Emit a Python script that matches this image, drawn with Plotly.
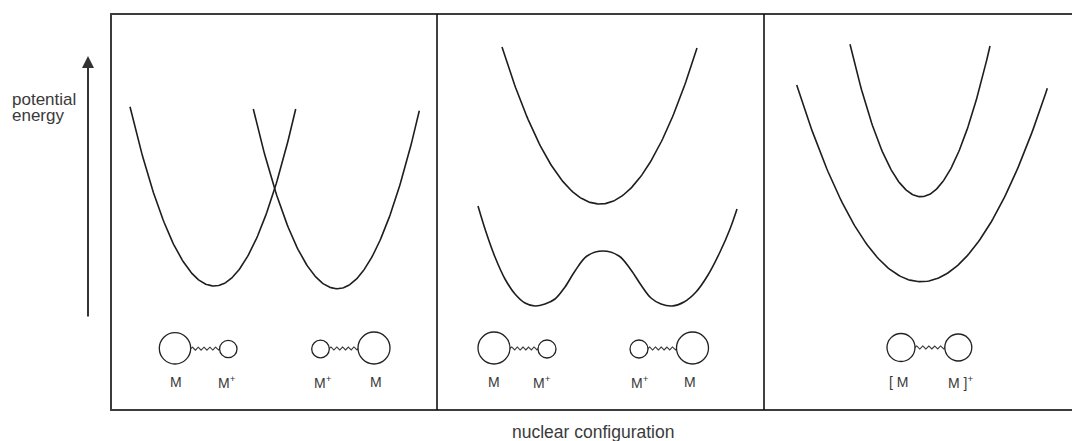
import numpy as np
import plotly.graph_objects as go

# ---------------- data (configuration coordinate, energy) ----------------
# frame of the three panels
frame_x = [111, 1091]          # left / right edge of the outer box
frame_E = [31, 427]            # bottom / top edge
divider_x = [437, 764]

# single-well (parabolic) potential curves: vertex and the two end points
par_vertex_x = [214.3, 337.3, 600.0, 921.0, 921.0]
par_vertex_E = [155.0, 152.3, 237.0, 244.3, 159.3]
par_left_x = [130.0, 253.3, 502.0, 850.0, 796.7]
par_left_E = [334.3, 332.0, 394.0, 396.7, 356.0]
par_right_x = [295.7, 419.3, 697.0, 990.0, 1047.3]
par_right_E = [332.0, 330.3, 393.0, 395.0, 352.7]

# double-well curve (middle panel, lower surface)
dw_x = [478, 486, 495, 505, 515, 525, 535, 545, 555, 565, 575, 587, 603,
        619, 631, 641, 651, 661, 672, 684, 696, 708, 720, 730, 737]
dw_E = [235, 209, 184, 162, 147, 138, 135, 137, 142, 154, 170, 185, 190,
        185, 171, 156, 143, 137, 135, 139, 149, 166, 189, 212, 232]

# molecule sketches: atoms (circles) and the bonds (springs) between them
atom_x = [175, 228.3, 320.5, 374, 494, 547, 639, 692.5, 901, 958.3]
atom_E = [92.7, 92.0, 92.0, 93.0, 93.0, 92.0, 92.0, 93.0, 93.5, 93.5]
atom_r = [15.7, 8.7, 8.8, 16.0, 16.0, 9.0, 9.0, 16.0, 14.0, 13.5]
bonds = [(0, 1), (2, 3), (4, 5), (6, 7), (8, 9)]

label_text = ["M", "M<sup>+</sup>", "M<sup>+</sup>", "M", "M",
              "M<sup>+</sup>", "M<sup>+</sup>", "M", "[ M", "M ]<sup>+</sup>"]
label_left_x = [168, 215.7, 311.7, 368, 485.7, 530.7, 629, 681.7, 887, 946]
label_E = 59.3

# energy axis arrow
arrow_x = 88
arrow_E = [123, 385]

CURVE = "#1e1e1e"
TEXT = "#3a3a3a"
FONT = "Liberation Sans, Arial, sans-serif"

# the page body has an 8 px margin: shift the visible ranges so that
# data units match the window's pixels
OFF = 8

fig = go.Figure()

# parabolic curves
for vx, vE, lx, lE, rx, rE in zip(par_vertex_x, par_vertex_E, par_left_x,
                                  par_left_E, par_right_x, par_right_E):
    kl = (lE - vE) / (vx - lx) ** 2
    kr = (rE - vE) / (rx - vx) ** 2
    xl = np.linspace(lx, vx, 80)
    xr = np.linspace(vx, rx, 80)[1:]
    xs = np.concatenate([xl, xr])
    Es = np.concatenate([vE + kl * (xl - vx) ** 2, vE + kr * (xr - vx) ** 2])
    fig.add_trace(go.Scatter(x=xs, y=Es, mode="lines",
                             line=dict(color=CURVE, width=1.6),
                             hoverinfo="skip"))

# double well
fig.add_trace(go.Scatter(x=dw_x, y=dw_E, mode="lines",
                         line=dict(color=CURVE, width=1.6, shape="spline",
                                   smoothing=1.0),
                         hoverinfo="skip"))

# springs
for i, j in bonds:
    x0 = atom_x[i] + atom_r[i]
    x1 = atom_x[j] - atom_r[j]
    yc = (atom_E[i] + atom_E[j]) / 2
    t = np.linspace(0, 1, 120)
    xs = x0 + (x1 - x0) * t
    Es = yc + 1.6 * np.sin(2 * np.pi * 5.0 * t)
    fig.add_trace(go.Scatter(x=xs, y=Es, mode="lines",
                             line=dict(color="#3a3a3a", width=1.1),
                             hoverinfo="skip"))

shapes = []
# outer frame
shapes.append(dict(type="rect", xref="x", yref="y",
                   x0=frame_x[0], x1=frame_x[1], y0=frame_E[0], y1=frame_E[1],
                   line=dict(color="#3c3c3c", width=2)))
for dx in divider_x:
    shapes.append(dict(type="line", xref="x", yref="y",
                       x0=dx, x1=dx, y0=frame_E[0], y1=frame_E[1],
                       line=dict(color="#111111", width=1.6)))
# atoms
for cx, cE, r in zip(atom_x, atom_E, atom_r):
    shapes.append(dict(type="circle", xref="x", yref="y",
                       x0=cx - r, x1=cx + r, y0=cE - r, y1=cE + r,
                       line=dict(color="#222222", width=1.3)))

annotations = []
for txt, lx in zip(label_text, label_left_x):
    annotations.append(dict(x=lx, y=label_E, xref="x", yref="y", text=txt,
                            showarrow=False, xanchor="left", yanchor="middle",
                            font=dict(family=FONT, size=14, color=TEXT)))

annotations.append(dict(x=10, y=342, xref="x", yref="y", text="potential",
                        showarrow=False, xanchor="left", yanchor="middle",
                        font=dict(family=FONT, size=17, color=TEXT)))
annotations.append(dict(x=10, y=325.5, xref="x", yref="y", text="energy",
                        showarrow=False, xanchor="left", yanchor="middle",
                        font=dict(family=FONT, size=17, color=TEXT)))
annotations.append(dict(x=510, y=9.5, xref="x", yref="y",
                        text="nuclear configuration",
                        showarrow=False, xanchor="left", yanchor="middle",
                        font=dict(family=FONT, size=17.5, color=TEXT)))
# arrow
annotations.append(dict(x=arrow_x, y=arrow_E[1], ax=arrow_x, ay=arrow_E[0],
                        xref="x", yref="y", axref="x", ayref="y", text="",
                        showarrow=True, arrowhead=2, arrowsize=1.2,
                        arrowwidth=2, arrowcolor="#333333", standoff=0))

fig.update_layout(
    width=1080, height=441,
    margin=dict(l=0, r=0, t=0, b=0),
    paper_bgcolor="white", plot_bgcolor="white",
    showlegend=False,
    xaxis=dict(range=[OFF, 1080 + OFF], visible=False, fixedrange=True),
    yaxis=dict(range=[-OFF, 441 - OFF], visible=False, fixedrange=True),
    shapes=shapes, annotations=annotations,
)

fig.write_html("out.html")
